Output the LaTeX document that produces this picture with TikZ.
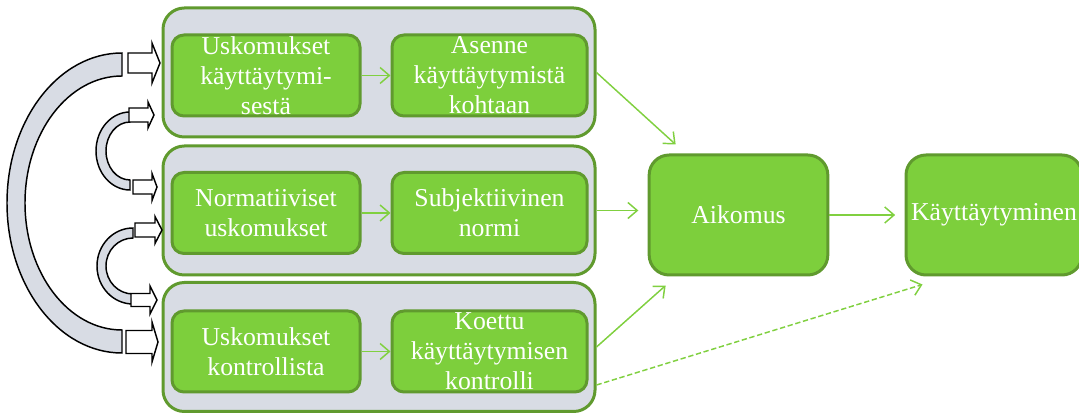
\documentclass[tikz,border=0pt]{standalone}
\usepackage{fontspec}
\setmainfont{Liberation Serif}
\usetikzlibrary{%
  arrows.meta,%
  positioning,% wg. " of "
  calc%
}

\definecolor{boxgreen}{RGB}{125,207,60}
\definecolor{edgegreen}{RGB}{96,154,46}
\definecolor{panelgray}{RGB}{216,220,228}
\definecolor{linkgreen}{RGB}{128,208,64}

\newcommand{\labelsize}{\fontsize{19.3}{22.5}\selectfont}
% right pointing block arrow: x0, ymid, neck, tip, body half, head half
\newcommand{\rightblock}[6]{%
  \draw[blockarr] (#1,#2-#5) -- (#3,#2-#5) -- (#3,#2-#6) -- (#4,#2)
    -- (#3,#2+#6) -- (#3,#2+#5) -- (#1,#2+#5) -- cycle;}
% half ring on the left: cx, cy, outer rx, outer ry, inner rx, inner ry
\newcommand{\leftband}[6]{%
  \draw[bandarr] (#1,#2-#4) arc[start angle=270, end angle=90, x radius=#3, y radius=#4]
    -- (#1,#2+#6) arc[start angle=90, end angle=270, x radius=#5, y radius=#6] -- cycle;}

\tikzset{
  panel/.style={draw=edgegreen, fill=panelgray, line width=2.25pt,
    rounded corners=16pt, minimum width=324pt, minimum height=96.75pt},
  itembox/.style={draw=edgegreen, fill=boxgreen, line width=2.25pt,
    rounded corners=9pt, text=white, align=center, inner sep=0pt,
    minimum height=60.75pt, font=\labelsize},
  bigbox/.style={itembox, rounded corners=15pt, minimum height=90pt,
    minimum width=134pt},
  link/.style={draw=linkgreen, line width=1.1pt,
    -{Straight Barb[length=7pt,width=12pt]}},
  blockarr/.style={draw=black, fill=white, line width=1.1pt},
  bandarr/.style={draw=black, fill=panelgray, line width=1.1pt}
}

\begin{document}
\begin{tikzpicture}[x=0.75pt, y=-0.75pt]
\useasboundingbox (0,0) rectangle (1079,413);

% panels
\node[panel] (p1) at (379,72.5) {};
\node[panel] (p2) at (379,210.5) {};
\node[panel] (p3) at (379,347) {};

% beliefs and their results
\node[itembox, minimum width=141pt] (b1) at (266,75.5) {Uskomukset\\k\"aytt\"aytymi-\\sest\"a};
\node[itembox, minimum width=146.25pt] (r1) at (489.5,75.5) {Asenne\\k\"aytt\"aytymist\"a\\kohtaan};
\node[itembox, minimum width=141pt] (b2) at (266,213) {Normatiiviset\\uskomukset};
\node[itembox, minimum width=146.25pt] (r2) at (489.5,213) {Subjektiivinen\\normi};
\node[itembox, minimum width=141pt] (b3) at (266,351.5) {Uskomukset\\kontrollista};
\node[itembox, minimum width=146.25pt] (r3) at (489.5,351.5) {Koettu\\k\"aytt\"aytymisen\\kontrolli};

\node[bigbox] (aik) at (738.5,215) {Aikomus};
\node[bigbox, minimum width=132pt] (kay) at (994,215) {K\"aytt\"aytyminen};

\draw[link] (b1) -- (r1);
\draw[link] (b2) -- (r2);
\draw[link] (b3) -- (r3);

\coordinate (t1) at ($(aik.north west)+(28,-9)$);
\coordinate (t3) at ($(aik.south west)+(18,9)$);
\coordinate (ds) at ($(p3.east)+(0,38)$);
\coordinate (dt) at ($(kay.south west)+(18,8)$);

\draw[link] (p1.east) -- (t1);
\draw[link, shorten >=7pt] (p2.east) -- (p2.east -| aik.west);
\draw[link] (p3.east) -- (t3);
\draw[link, dash pattern=on 4pt off 2pt] (ds) -- (dt);
\draw[link, shorten >=7pt] (aik.east) -- (kay.west);

% feedback arrows on the left
\leftband{122}{203}{115}{150}{97}{127}
\leftband{130}{151}{34}{39}{24}{29}
\leftband{133}{266}{36}{38}{27}{28}
\rightblock{128}{63}{152}{160}{10}{20}
\rightblock{126}{342}{152}{158}{11.5}{20}
\rightblock{129}{115}{148}{154}{7}{13}
\rightblock{133}{187}{152}{157}{7}{13.5}
\rightblock{135}{230}{155}{162}{7}{13.5}
\rightblock{131}{300}{150}{157}{6.5}{14}
\end{tikzpicture}
\end{document}
